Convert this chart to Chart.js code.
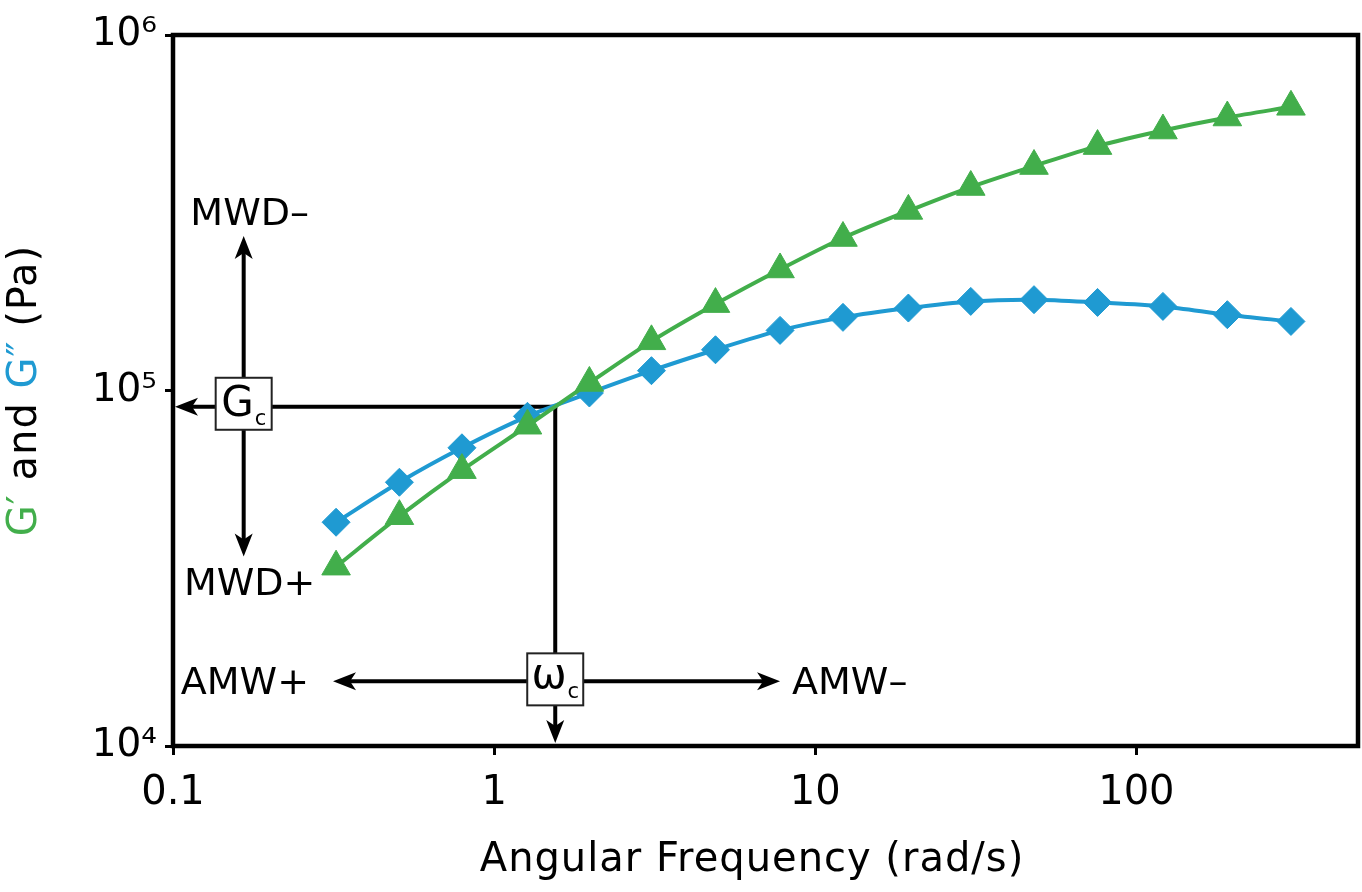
<!DOCTYPE html>
<html>
<head>
<meta charset="utf-8">
<title>G' and G'' vs Angular Frequency</title>
<script src="https://cdn.jsdelivr.net/npm/chart.js@4/dist/chart.umd.min.js"></script>
<style>
  html, body { margin: 0; padding: 0; background: #fff; overflow: hidden; }
  #myChart { display: block; }
</style>
</head>
<body>
<canvas id="myChart" width="1362" height="892"></canvas>
<script>
// data
var freq = [0.322, 0.507, 0.794, 1.27, 1.98, 3.09, 4.89, 7.77, 12.2, 19.5, 30.5, 48.0, 75.7, 121, 192, 303];
var gPrime = [31950, 44300, 59700, 79600, 105000, 137500, 175000, 219000, 268500, 320000, 373600, 428000, 487000, 538600, 586000, 628000];
var gDouble = [42600, 55200, 69000, 84600, 98400, 113700, 130200, 147600, 160600, 170600, 178100, 180100, 176900, 172400, 163400, 156400];

var xTicks = [0.1, 1, 10, 100];
var xTickLabels = ['0.1', '1', '10', '100'];
var yTicks = [1e4, 1e5, 1e6];
var yTickLabels = ['10\u2074', '10\u2075', '10\u2076'];

// crossover point and the guide arrows (data units)
var crossW = 1.55;
var crossG = 9.0e4;
var mwdX = 0.166;          // vertical MWD arrow
var mwdTop = 2.72e5;
var mwdBottom = 3.41e4;
var amwY = 1.52e4;         // horizontal AMW arrow
var amwLeft = 0.315;
var amwRight = 7.77;

var green = '#42ae4b';
var blue = '#1f9ad2';
var FONT = '"DejaVu Sans", "Liberation Sans", sans-serif';

function pairs(xs, ys) {
  return xs.map(function (x, i) { return { x: x, y: ys[i] }; });
}

function arrowHead(ctx, x, y, angle) {
  ctx.save();
  ctx.translate(x, y);
  ctx.rotate(angle);
  ctx.beginPath();
  ctx.moveTo(0, 0);
  ctx.lineTo(-23, -9);
  ctx.lineTo(-17, 0);
  ctx.lineTo(-23, 9);
  ctx.closePath();
  ctx.fill();
  ctx.restore();
}

function line(ctx, x1, y1, x2, y2) {
  ctx.beginPath();
  ctx.moveTo(x1, y1);
  ctx.lineTo(x2, y2);
  ctx.stroke();
}

function arrow(ctx, x1, y1, x2, y2) {
  var a = Math.atan2(y2 - y1, x2 - x1);
  line(ctx, x1, y1, x2 - Math.cos(a) * 12, y2 - Math.sin(a) * 12);
  arrowHead(ctx, x2, y2, a);
}

function subBox(ctx, cx, cy, big, small, bigSize, baseOff, subOff) {
  ctx.save();
  ctx.fillStyle = '#fff';
  ctx.strokeStyle = '#222';
  ctx.lineWidth = 2;
  ctx.fillRect(cx - 28, cy - 26, 56, 52);
  ctx.strokeRect(cx - 28, cy - 26, 56, 52);
  ctx.fillStyle = '#000';
  ctx.textAlign = 'left';
  ctx.textBaseline = 'alphabetic';
  ctx.font = bigSize + 'px ' + FONT;
  var wb = ctx.measureText(big).width;
  ctx.font = '21px ' + FONT;
  var ws = ctx.measureText(small).width;
  var x0 = cx - (wb + ws + 1) / 2;
  ctx.font = bigSize + 'px ' + FONT;
  ctx.fillText(big, x0, cy + baseOff);
  ctx.font = '21px ' + FONT;
  ctx.fillText(small, x0 + wb + 1, cy + subOff);
  ctx.restore();
}

var guides = {
  id: 'guides',
  beforeDatasetsDraw: function (chart) {
    var ctx = chart.ctx;
    var xs = chart.scales.x, ys = chart.scales.y;
    var area = chart.chartArea;
    var cx = xs.getPixelForValue(crossW), cy = ys.getPixelForValue(crossG);
    var mx = xs.getPixelForValue(mwdX);
    var ay = ys.getPixelForValue(amwY);
    var aL = xs.getPixelForValue(amwLeft), aR = xs.getPixelForValue(amwRight);
    var mT = ys.getPixelForValue(mwdTop), mB = ys.getPixelForValue(mwdBottom);

    ctx.save();
    ctx.strokeStyle = '#000';
    ctx.fillStyle = '#000';
    ctx.lineWidth = 4;

    // G_c: horizontal line to the y axis, omega_c: vertical line to the x axis
    arrow(ctx, cx + 2, cy, area.left + 2, cy);
    arrow(ctx, cx, cy, cx, area.bottom - 3);
    // MWD arrows
    arrow(ctx, mx, cy, mx, mT);
    arrow(ctx, mx, cy, mx, mB);
    // AMW arrows
    arrow(ctx, cx, ay, aL, ay);
    arrow(ctx, cx, ay, aR, ay);

    subBox(ctx, mx, cy - 3, 'G', 'c', 42, 12, 21);
    subBox(ctx, cx, ay - 2, '\u03c9', 'c', 42, 9, 19);

    ctx.font = '38px ' + FONT;
    ctx.textBaseline = 'alphabetic';
    ctx.textAlign = 'center';
    ctx.fillText('MWD\u2013', mx + 6, mT - 11);
    ctx.fillText('MWD+', mx + 6, mB + 38);
    ctx.textAlign = 'right';
    ctx.fillText('AMW+', aL - 24, ay + 13);
    ctx.textAlign = 'left';
    ctx.fillText('AMW\u2013', aR + 12, ay + 13);
    ctx.restore();
  },
  afterDraw: function (chart) {
    var ctx = chart.ctx;
    var area = chart.chartArea;
    ctx.save();
    // frame
    ctx.strokeStyle = '#000';
    ctx.lineWidth = 4.5;
    ctx.strokeRect(area.left, area.top, area.right - area.left, area.bottom - area.top);

    // x title
    ctx.fillStyle = '#000';
    ctx.font = '40px ' + FONT;
    ctx.letterSpacing = '1px';
    ctx.textAlign = 'center';
    ctx.textBaseline = 'alphabetic';
    ctx.fillText('Angular Frequency (rad/s)', 752, 871);

    // y title, two coloured symbols
    var parts = [['G\u2032', green], [' and ', '#000'], ['G\u2033', blue], [' (Pa)', '#000']];
    var total = 0;
    parts.forEach(function (p) { total += ctx.measureText(p[0]).width; });
    ctx.translate(36, (area.top + area.bottom) / 2);
    ctx.rotate(-Math.PI / 2);
    ctx.textAlign = 'left';
    var x = -total / 2;
    parts.forEach(function (p) {
      ctx.fillStyle = p[1];
      ctx.fillText(p[0], x, 0);
      x += ctx.measureText(p[0]).width;
    });
    ctx.restore();
  }
};

var ctx = document.getElementById('myChart');
var myChart = new Chart(ctx, {
  type: 'line',
  data: {
    datasets: [
      {
        label: "G'",
        data: pairs(freq, gPrime),
        borderColor: green,
        backgroundColor: green,
        borderWidth: 4,
        pointStyle: 'triangle',
        pointRadius: 16.5,
        pointHoverRadius: 16.5,
        pointBorderWidth: 1,
        tension: 0.3,
        fill: false
      },
      {
        label: "G''",
        data: pairs(freq, gDouble),
        borderColor: blue,
        backgroundColor: blue,
        borderWidth: 4,
        pointStyle: 'rectRot',
        pointRadius: 14,
        pointHoverRadius: 14,
        pointBorderWidth: 1,
        tension: 0.3,
        fill: false
      }
    ]
  },
  options: {
    responsive: false,
    devicePixelRatio: 1,
    animation: false,
    layout: { autoPadding: false, padding: { top: 35, right: 4, left: 0, bottom: 0 } },
    plugins: {
      legend: { display: false },
      tooltip: { enabled: false }
    },
    scales: {
      x: {
        type: 'logarithmic',
        min: 0.1,
        max: 490,
        border: { display: false },
        grid: { drawOnChartArea: false, drawTicks: true, tickLength: 9, tickWidth: 3, tickColor: '#000' },
        ticks: {
          autoSkip: false,
          maxRotation: 0,
          padding: 15,
          color: '#000',
          font: { family: FONT, size: 40 },
          callback: function (v) {
            var i = xTicks.indexOf(v);
            return i < 0 ? '' : xTickLabels[i];
          }
        },
        afterBuildTicks: function (scale) {
          scale.ticks = xTicks.map(function (v) { return { value: v }; });
        },
        afterFit: function (scale) {
          scale.height = 146;
          scale.paddingLeft = 0;
          scale.paddingRight = 0;
        }
      },
      y: {
        type: 'logarithmic',
        min: 1e4,
        max: 1e6,
        border: { display: false },
        grid: { drawOnChartArea: false, drawTicks: true, tickLength: 8, tickWidth: 3, tickColor: '#000' },
        ticks: {
          autoSkip: false,
          padding: 8,
          color: '#000',
          font: { family: FONT, size: 39 },
          callback: function (v) {
            var i = yTicks.indexOf(v);
            return i < 0 ? '' : yTickLabels[i];
          }
        },
        afterBuildTicks: function (scale) {
          scale.ticks = yTicks.map(function (v) { return { value: v }; });
        },
        afterFit: function (scale) {
          scale.width = 173;
          scale.paddingTop = 0;
          scale.paddingBottom = 0;
        }
      }
    }
  },
  plugins: [guides]
});
</script>
</body>
</html>
